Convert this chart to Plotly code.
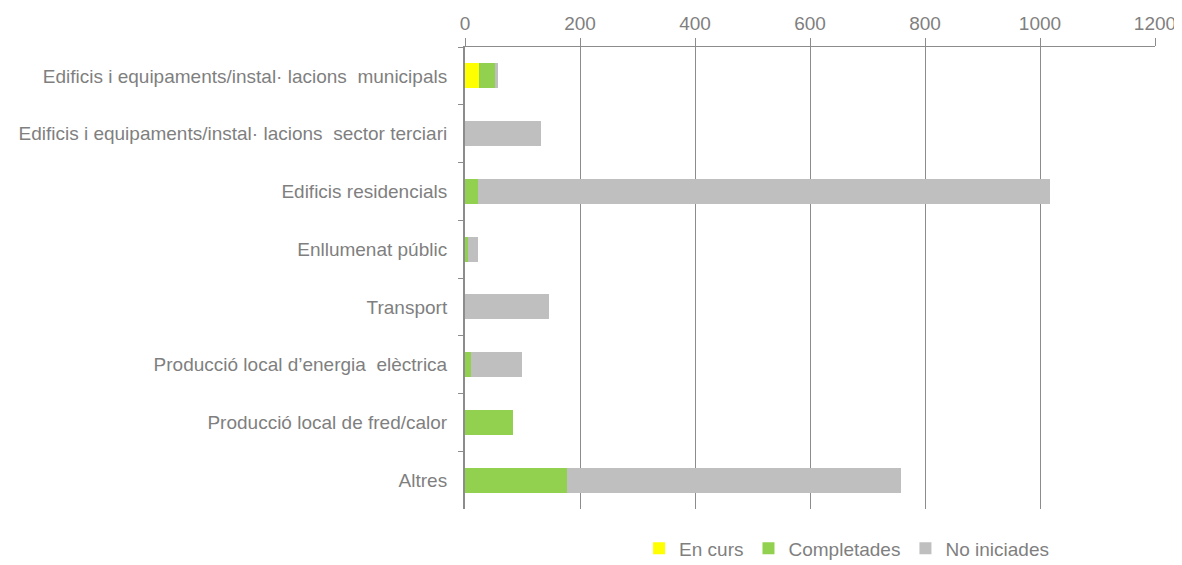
import plotly.graph_objects as go

categories = [
    "Edificis i equipaments/instal·\u00a0lacions \u00a0municipals",
    "Edificis i equipaments/instal·\u00a0lacions \u00a0sector terciari",
    "Edificis residencials",
    "Enllumenat públic",
    "Transport",
    "Producció local d’energia \u00a0elèctrica",
    "Producció local de fred/calor",
    "Altres",
]
en_curs = [24, 0, 0, 0, 0, 0, 0, 0]
completades = [28, 0, 23, 5, 0, 10, 84, 178]
no_iniciades = [6, 133, 995, 18, 146, 89, 0, 580]
x_ticks = [0, 200, 400, 600, 800, 1000, 1200]

grey_text = "#7f7f7f"
fig = go.Figure()
for name, vals, col in [
    ("En curs", en_curs, "#FFFF00"),
    ("Completades", completades, "#92D050"),
    ("No iniciades", no_iniciades, "#BFBFBF"),
]:
    fig.add_trace(go.Bar(y=categories, x=vals, name=name, orientation="h",
                         marker=dict(color=col, line=dict(width=0))))

fig.update_layout(
    barmode="stack",
    bargap=0.57,
    width=1174, height=557,
    margin=dict(l=457, r=27, t=39, b=56),
    plot_bgcolor="white", paper_bgcolor="white",
    font=dict(family="Liberation Sans, Arial, sans-serif", size=19, color=grey_text),
    legend=dict(orientation="h", x=0.553, xanchor="center",
                yref="container", y=0.03, yanchor="middle",
                font=dict(size=19, color=grey_text), traceorder="normal",
                itemwidth=30, tracegroupgap=0),
    xaxis=dict(side="top", range=[0, 1200], tickvals=x_ticks, showgrid=True,
               gridcolor="#8c8c8c", gridwidth=1, showline=True, linecolor="#8c8c8c",
               linewidth=1, ticks="outside", ticklen=8, tickcolor="#8c8c8c",
               zeroline=False, tickfont=dict(size=19, color=grey_text),
               automargin=False),
    yaxis=dict(autorange="reversed", showline=True, linecolor="#8c8c8c", linewidth=2,
               ticks="outside", ticklen=5, tickcolor="#8c8c8c", tickson="boundaries",
               showgrid=False, tickfont=dict(size=19, color=grey_text),
               ticklabelstandoff=12, automargin=False),
)
fig.write_html("out.html")
